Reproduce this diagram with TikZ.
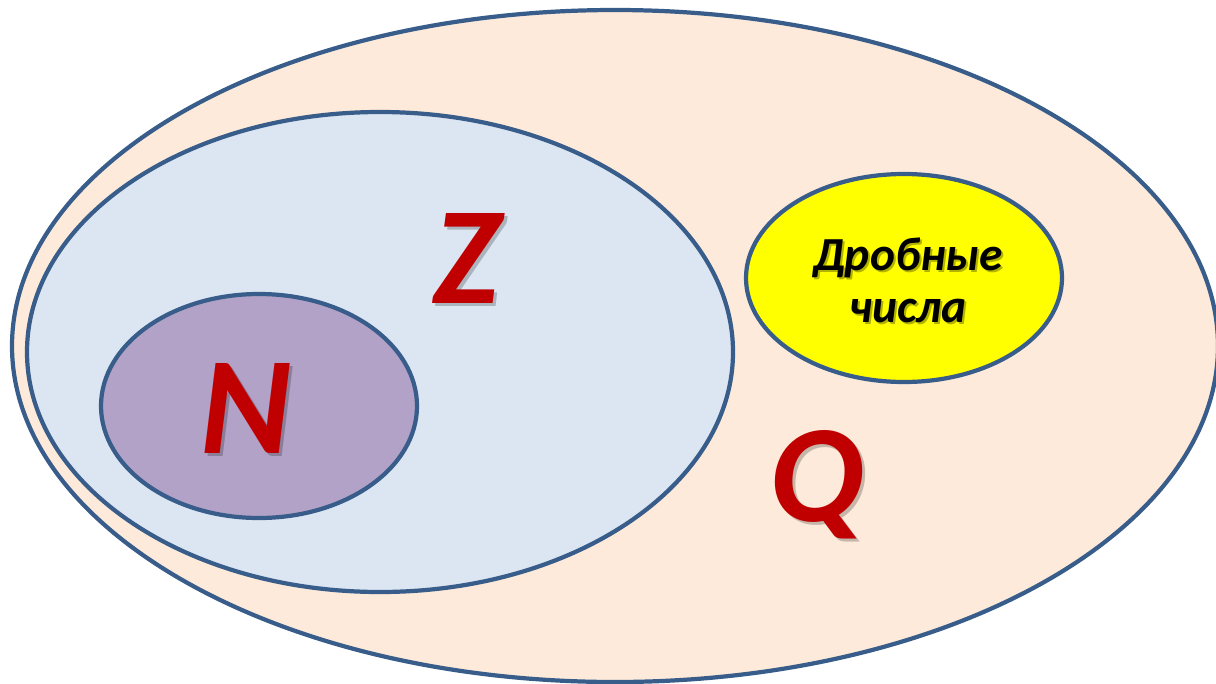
\documentclass[tikz,border=0pt]{standalone}
\usepackage{fontspec}
\setmainfont{Carlito}
\usetikzlibrary{positioning}
\definecolor{setline}{HTML}{385D8A}
\definecolor{qfill}{HTML}{FDEADA}
\definecolor{zfill}{HTML}{DCE6F2}
\definecolor{nfill}{HTML}{B3A2C7}
\definecolor{frfill}{HTML}{FFFF00}
\definecolor{letterred}{HTML}{C00000}
\tikzset{
  setborder/.style={draw=setline, line width=2.4pt},
  setletter/.style={text=letterred, font=\fontsize{79}{79}\selectfont\bfseries\itshape, inner sep=0pt},
  lettershadow/.style={setletter, text=black, opacity=0.22},
  fractext/.style={align=center, font=\fontsize{27}{29.5}\selectfont\bfseries\itshape, inner sep=0pt},
  fracshadow/.style={fractext, text=black, opacity=0.3}
}
\begin{document}
\begin{tikzpicture}[x=0.02cm,y=-0.02cm]
  \useasboundingbox (0,0) rectangle (1216,683);
  \coordinate (Qc) at (615,346);
  \coordinate (Zc) at (380,352);
  \coordinate (Nc) at (259,406);
  \coordinate (Fc) at (904,278);
  % sets
  \begin{scope}
    \clip (0,0) rectangle (1216,683);
    \draw[setborder, fill=qfill] (Qc) ellipse [x radius=603, y radius=336];
  \end{scope}
  \draw[setborder, fill=zfill] (Zc) ellipse [x radius=353, y radius=240];
  \draw[setborder, fill=nfill] (Nc) ellipse [x radius=158, y radius=112];
  \draw[setborder, fill=frfill] (Fc) ellipse [x radius=158, y radius=104];
  % labels with soft shadows
  \node[lettershadow] at (470,261) {Z};
  \node[setletter] (Z) at (467,258) {Z};
  \node[lettershadow] at (249,411) {N};
  \node[setletter] (N) at (246,408) {N};
  \node[lettershadow] at (819,488) {Q};
  \node[setletter] (Q) at (816,485) {Q};
  \node[fracshadow] at (910,282) {Дробные\\числа};
  \node[fractext] (frac) at (908,280) {Дробные\\числа};
\end{tikzpicture}
\end{document}
